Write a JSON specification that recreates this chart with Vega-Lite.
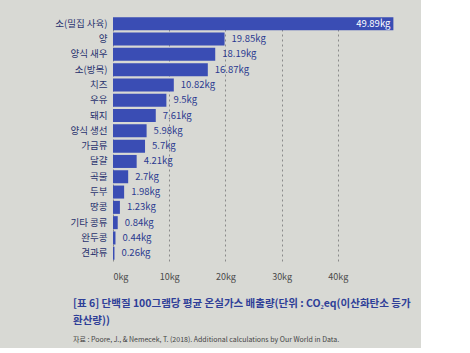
{
  "$schema": "https://vega.github.io/schema/vega-lite/v6.json",
  "width": 281,
  "height": 245,
  "padding": {"left": 48, "top": 16, "right": 10, "bottom": 5},
  "background": "#d8d9d4",
  "config": {"font": "Noto Sans CJK KR", "view": {"stroke": null}},
  "title": {
    "text": ["[표 6] 단백질 100그램당 평균 온실가스 배출량(단위 : CO₂eq(이산화탄소 등가", "환산량))"],
    "subtitle": "자료 : Poore, J., & Nemecek, T. (2018). Additional calculations by Our World in Data.",
    "orient": "bottom",
    "anchor": "start",
    "frame": "bounds",
    "dx": 25,
    "offset": 18,
    "fontSize": 10.5,
    "fontWeight": "bold",
    "color": "#2f3f98",
    "lineHeight": 17,
    "subtitleFontSize": 7,
    "subtitleColor": "#444444",
    "subtitlePadding": 9
  },
  "data": {
    "values": [
      {"food": "소(밀집 사육)", "v": 49.89},
      {"food": "양", "v": 19.85},
      {"food": "양식 새우", "v": 18.19},
      {"food": "소(방목)", "v": 16.87},
      {"food": "치즈", "v": 10.82},
      {"food": "우유", "v": 9.5},
      {"food": "돼지", "v": 7.61},
      {"food": "양식 생선", "v": 5.98},
      {"food": "가금류", "v": 5.7},
      {"food": "달걀", "v": 4.21},
      {"food": "곡물", "v": 2.7},
      {"food": "두부", "v": 1.98},
      {"food": "땅콩", "v": 1.23},
      {"food": "기타 콩류", "v": 0.84},
      {"food": "완두콩", "v": 0.44},
      {"food": "견과류", "v": 0.26}
    ]
  },
  "transform": [{"calculate": "datum.v + 'kg'", "as": "label"}],
  "encoding": {
    "y": {
      "field": "food", "type": "nominal", "sort": null,
      "scale": {"paddingInner": 0.15, "paddingOuter": 0.08},
      "axis": {"title": null, "ticks": false, "domain": false, "labelPadding": 6, "minExtent": 65, "maxExtent": 65, "labelFontSize": 9.5, "labelColor": "#28326e", "grid": false}
    },
    "x": {
      "field": "v", "type": "quantitative",
      "scale": {"domain": [0, 50]},
      "axis": {"title": null, "zindex": 0, "values": [0, 10, 20, 30, 40], "labelExpr": "datum.value + 'kg'", "ticks": false, "domain": false, "labelPadding": 11, "labelFontSize": 9, "labelColor": "#4a4a4a", "grid": true, "gridDash": [2, 3], "gridColor": "#8a8a8a", "gridWidth": 1}
    }
  },
  "layer": [
    {"mark": {"type": "bar", "color": "#3a4db4"}},
    {
      "transform": [{"filter": "datum.v < 40"}],
      "mark": {"type": "text", "align": "left", "dx": 7, "fontSize": 9.5, "color": "#2b3a90"},
      "encoding": {"text": {"field": "label"}}
    },
    {
      "transform": [{"filter": "datum.v >= 40"}],
      "mark": {"type": "text", "align": "right", "dx": -3, "fontSize": 9.5, "color": "#ffffff"},
      "encoding": {"text": {"field": "label"}}
    }
  ]
}
